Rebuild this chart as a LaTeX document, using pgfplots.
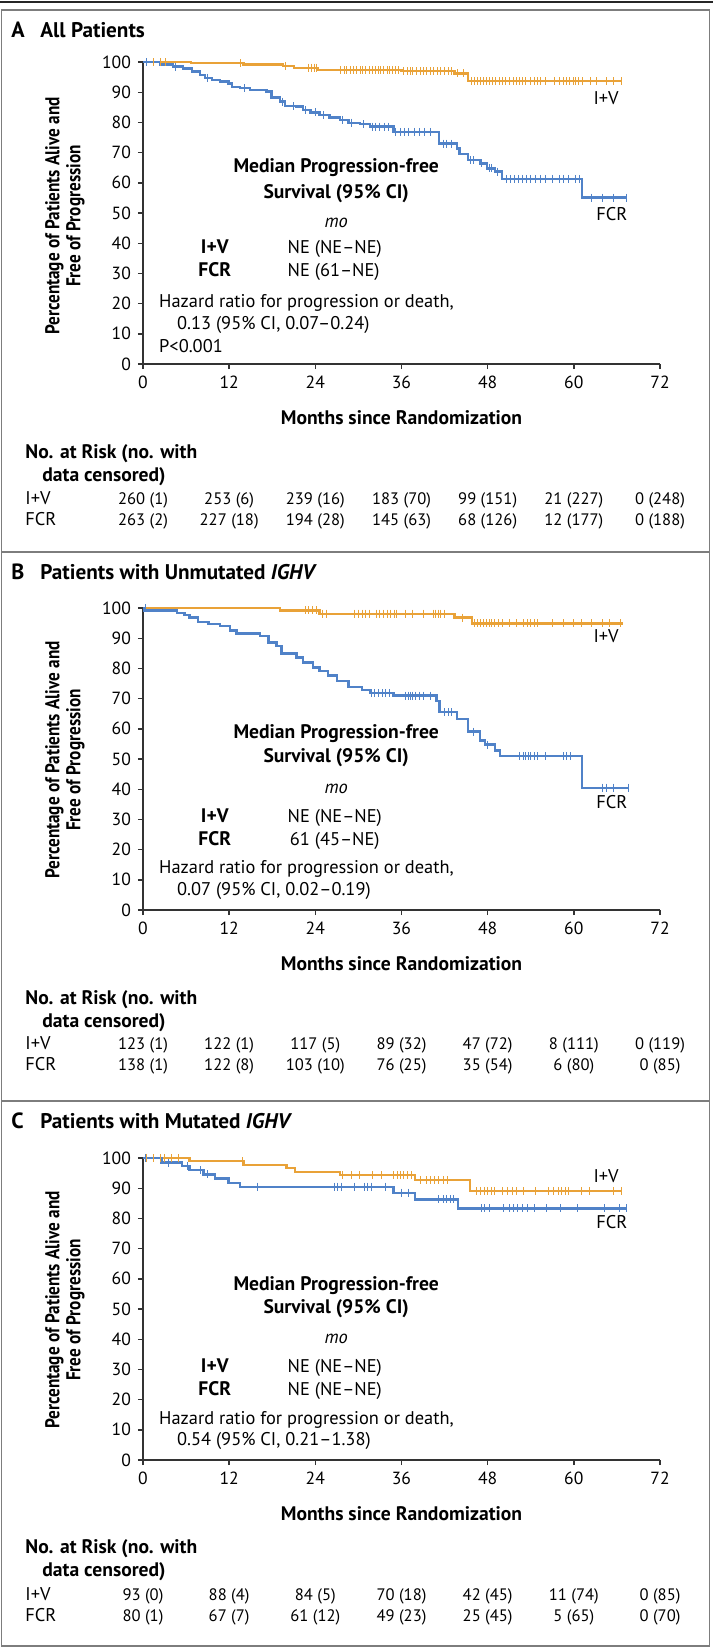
\documentclass[border=0pt]{standalone}
\usepackage{fontspec}
\setmainfont{PT Sans}
\newfontfamily\ylabfont{PT Sans}[FakeStretch=0.86]
\usepackage{pgfplots}
\pgfplotsset{compat=1.18}

\definecolor{ivorange}{RGB}{233,162,56}
\definecolor{fcrblue}{RGB}{80,130,200}
\definecolor{framegray}{RGB}{125,125,125}

\newcommand{\fs}{\fontsize{9.2}{11}\selectfont}
\newcommand{\bfs}{\fontsize{9.8}{11}\selectfont\bfseries}
\newcommand{\nfs}{\fontsize{8.3}{10}\selectfont}
\newcommand{\tfs}{\fontsize{8.8}{10}\selectfont}
\newcommand{\ylabfs}{\ylabfont\bfseries\fontsize{10}{10.5}\selectfont}

\tikzset{
  lt/.style={font=\fs, anchor=mid west, inner sep=0pt},
  ct/.style={font=\fs, anchor=mid, inner sep=0pt},
}
\pgfplotsset{
  km/.style={
    scale only axis, width=258.5pt, height=151pt, anchor=south west,
    xmin=0, xmax=72, ymin=0, ymax=100,
    axis lines=left, axis line style={-, line width=0.8pt, black!80},
    xtick={0,12,...,72}, ytick={0,10,...,100},
    tick align=outside, major tick length=2.5pt,
    tick style={line width=0.7pt, black!80},
    tick label style={font=\tfs, /pgf/number format/assume math mode=true},
    xlabel={Months since Randomization},
    xlabel style={font=\bfs, at={(axis description cs:0.5,0)}, anchor=center, yshift=-27pt},
    clip=false,
  },
  iv/.style={const plot, ivorange, line width=1.2pt, mark=none},
  fcr/.style={const plot, fcrblue, line width=1.2pt, mark=none},
  ivc/.style={only marks, mark=|, mark size=2pt, ivorange, mark options={line width=0.5pt}},
  fcrc/.style={only marks, mark=|, mark size=2pt, fcrblue, mark options={line width=0.5pt}},
}

% at-risk row: y (px), label, entries
\newcommand{\riskrow}[3]{%
  \node[lt] at (25,#1) {#2};
  \foreach \v [count=\i from 0] in {#3} \node[anchor=mid, inner sep=0pt, font=\nfs] at (143+86.17*\i,#1) {\v};
}
\newcommand{\riskhead}[1]{%
  \node[lt, font=\bfs] at (25,#1) {No. at Risk (no. with};
  \node[lt, font=\bfs] at (42,#1+23) {data censored)};
}
\newcommand{\paneltitle}[3]{%
  \node[lt, font=\fontsize{11}{12}\selectfont\bfseries] at (11,#1) {#2};
  \node[lt, font=\fontsize{10.6}{12}\selectfont\bfseries] at (40,#1) {#3};
}
\newcommand{\ylab}[1]{%
  \node[rotate=90, align=center, font=\ylabfs] at (65,#1) {Percentage of Patients Alive and\\Free of Progression};
}

\begin{document}
\begin{tikzpicture}[x=0.5pt, y=-0.5pt]
\path[use as bounding box] (0,0) rectangle (713,1649);

% frames
\draw[black!85, line width=1pt] (0,2) -- (713,2);
\draw[framegray, line width=0.8pt] (1.5,10) rectangle (709.5,552);
\draw[framegray, line width=0.8pt] (1.5,552) rectangle (709.5,1101);
\draw[framegray, line width=0.8pt] (1.5,1101) rectangle (709.5,1646);

% ---------------- Panel A ----------------
\paneltitle{32}{A}{All Patients}
\ylab{216}

\begin{axis}[km, at={(71.5pt,-182pt)}]
\addplot[iv] coordinates {(0,100) (6.7,99.6) (14,99.2) (19.5,98.6) (21,98.1) (24.4,97.3) (36,97.0) (43.4,96.2) (45.3,93.7) (66.7,93.7)};
\addplot[fcr] coordinates {(0,100) (2.4,99.2) (4.2,98.5) (5.6,97.9) (6.8,96.8) (7.9,95.7) (8.6,94.8) (9.6,94.0) (10.7,93.5) (11.9,92.9) (12.4,91.8) (13.5,91.3) (14.9,90.8) (17.2,90.2) (17.9,88.2) (19.1,86.9) (19.8,85.4) (21.4,85.2) (22.3,84.1) (23.3,83.3) (24.6,82.5) (26.0,81.6) (27.4,80.8) (28.6,79.9) (30.2,79.4) (31.6,78.6) (34.9,76.9) (41.2,73.0) (43.7,71.4) (44.1,69.5) (45.3,67.5) (46.9,66.4) (47.9,64.8) (49.0,63.7) (50.0,61.3) (61.1,55.1) (67.4,55.1)};
\addplot[ivc] coordinates {(0.5,100) (1.5,100) (2.5,100) (3.2,100) (13.6,99.6) (19.9,98.6) (23.1,98.1) (23.5,98.1) (23.9,98.1) (24.2,98.1)
 (27.5,97.3) (28,97.3) (28.4,97.3) (28.9,97.3) (29.3,97.3) (29.8,97.3) (30.3,97.3) (30.6,97.3) (31,97.3) (31.5,97.3) (31.9,97.3) (32.4,97.3) (32.8,97.3) (33.1,97.3) (33.5,97.3) (34,97.3) (34.3,97.3) (34.8,97.3) (35.2,97.3) (35.6,97.3)
 (36.3,97.0) (36.8,97.0) (37.2,97.0) (37.6,97.0) (38.1,97.0) (38.6,97.0) (39,97.0) (39.5,97.0) (40,97.0) (40.4,97.0) (41,97.0) (41.4,97.0) (42,97.0) (42.5,97.0) (43,97.0) (43.8,96.2) (44.6,96.2)
 (45.8,93.7) (46.2,93.7) (46.6,93.7) (47,93.7) (47.4,93.7) (47.8,93.7) (48.2,93.7) (48.7,93.7) (49.1,93.7) (49.6,93.7) (50,93.7) (50.5,93.7) (51,93.7) (51.6,93.7) (52,93.7) (52.4,93.7) (52.8,93.7) (53.3,93.7) (54,93.7) (54.5,93.7) (55,93.7) (55.4,93.7) (56,93.7) (57.3,93.7) (58,93.7) (58.6,93.7) (59,93.7) (59.4,93.7) (59.9,93.7) (60.3,93.7) (60.7,93.7) (61.2,93.7) (62.3,93.7) (63.2,93.7) (64.6,93.7) (65.5,93.7) (66.7,93.7)};
\addplot[fcrc] coordinates {(0.5,100) (4.5,98.5) (9.0,94.8) (14.2,91.3) (19.4,86.9) (21.0,85.4) (22.6,84.1) (24.0,83.3) (25.2,82.5) (27.8,80.8) (29,79.9) (30.7,79.4) (31.9,78.6) (32.4,78.6) (33,78.6) (33.6,78.6) (34.2,78.6)
 (35.2,76.9) (35.8,76.9) (36.4,76.9) (37,76.9) (37.8,76.9) (38.5,76.9) (39.2,76.9) (40,76.9) (41.8,73.0) (42.3,73.0) (42.9,73.0) (45.6,67.5) (46,67.5) (47.2,66.4) (48.3,64.8) (48.6,64.8) (49.4,63.7)
 (50.6,61.3) (51.2,61.3) (51.8,61.3) (52.3,61.3) (52.9,61.3) (53.4,61.3) (54,61.3) (54.6,61.3) (55.3,61.3) (56,61.3) (57,61.3) (58,61.3) (58.6,61.3) (59.2,61.3) (60.3,61.3) (60.8,61.3) (62.5,55.1) (64,55.1) (65.5,55.1) (67.4,55.1)};
\node[ct] at (axis cs:64.5,87.7) {I+V};
\node[ct] at (axis cs:65.3,49.3) {FCR};
\node[ct, font=\bfs] at (axis cs:26.9,65) {Median Progression-free};
\node[ct, font=\bfs] at (axis cs:26.9,56.6) {Survival (95\% CI)};
\node[ct, font=\fs\itshape] at (axis cs:26.9,47) {mo};
\node[ct, font=\bfs] at (axis cs:10,38.1) {I+V};
\node[lt] at (axis cs:20.1,38.1) {NE (NE--NE)};
\node[ct, font=\bfs] at (axis cs:10,30.5) {FCR};
\node[lt] at (axis cs:20.1,30.5) {NE (61--NE)};
\node[lt] at (axis cs:2.2,20.5) {Hazard ratio for progression or death,};
\node[lt] at (axis cs:4.7,13.2) {0.13 (95\% CI, 0.07--0.24)};
\node[lt] at (axis cs:2.2,5.6) {P<0.001};
\end{axis}

\riskhead{453}
\riskrow{499}{I+V}{260 (1),253 (6),239 (16),183 (70),99 (151),21 (227),0 (248)}
\riskrow{520}{FCR}{263 (2),227 (18),194 (28),145 (63),68 (126),12 (177),0 (188)}

% ---------------- Panel B ----------------
\paneltitle{574}{B}{Patients with Unmutated \textit{IGHV}}
\ylab{760}

\begin{axis}[km, at={(71.5pt,-455pt)}]
\addplot[iv] coordinates {(0,100) (19.1,99.2) (24.6,98.1) (43.4,96.8) (45.8,94.9) (66.9,94.9)};
\addplot[fcr] coordinates {(0,100) (0.2,99.2) (4.7,98.4) (5.8,97.7) (6.5,96.8) (7.7,95.4) (9.1,94.8) (10.7,94.1) (12.1,92.6) (13.0,91.6) (16.3,90.8) (17.5,88.6) (18.6,87.5) (19.3,84.9) (21.4,83.6) (22.3,81.9) (23.7,80.3) (24.6,79.2) (25.8,77.6) (27.0,75.9) (28.6,73.9) (30.5,72.8) (31.6,71.8) (34.9,71.0) (40.9,69.3) (41.3,65.5) (43.7,63.2) (45.3,59.1) (46.9,56.1) (47.6,54.8) (49.0,52.8) (49.7,50.9) (61.1,40.5) (67.6,40.5)};
\addplot[ivc] coordinates {(0.3,100) (22.6,99.2) (23,99.2) (23.6,99.2) (24.1,99.2) (25,98.1) (25.5,98.1)
 (29.5,98.1) (30,98.1) (30.5,98.1) (31,98.1) (31.5,98.1) (32.5,98.1) (33,98.1) (33.5,98.1) (34,98.1) (34.5,98.1) (35,98.1) (35.3,98.1) (36.5,98.1) (37.5,98.1) (39,98.1) (40.5,98.1) (40.8,98.1) (41.2,98.1) (41.5,98.1) (42,98.1) (44.5,96.8)
 (46.2,94.9) (46.6,94.9) (47,94.9) (47.4,94.9) (47.8,94.9) (48.2,94.9) (48.6,94.9) (49,94.9) (49.5,94.9) (50,94.9) (51,94.9) (52,94.9) (53,94.9) (53.5,94.9) (54,94.9) (54.5,94.9) (55,94.9) (57,94.9) (58.5,94.9) (60,94.9) (61,94.9) (62.5,94.9) (64,94.9) (65,94.9) (66.5,94.9)};
\addplot[fcrc] coordinates {(0.3,100) (31.8,71.8) (32.3,71.8) (32.8,71.8) (33.3,71.8) (33.8,71.8) (34.3,71.8) (36.5,71.0) (37,71.0) (37.3,71.0) (37.6,71.0) (38,71.0) (38.5,71.0) (39,71.0) (40,71.0)
 (42,65.5) (42.5,65.5) (43,65.5) (46,59.1) (48,54.8) (52.5,50.9) (53,50.9) (53.3,50.9) (53.7,50.9) (54,50.9) (54.5,50.9) (55,50.9) (56,50.9) (58.5,50.9) (59,50.9) (59.5,50.9) (64,40.5) (64.5,40.5) (65.5,40.5) (67.6,40.5)};
\node[ct] at (axis cs:64.5,90.1) {I+V};
\node[ct] at (axis cs:65.3,35.3) {FCR};
\node[ct, font=\bfs] at (axis cs:26.9,58.4) {Median Progression-free};
\node[ct, font=\bfs] at (axis cs:26.9,50.5) {Survival (95\% CI)};
\node[ct, font=\fs\itshape] at (axis cs:26.9,40.3) {mo};
\node[ct, font=\bfs] at (axis cs:10,30.7) {I+V};
\node[lt] at (axis cs:20.1,30.7) {NE (NE--NE)};
\node[ct, font=\bfs] at (axis cs:10,23.1) {FCR};
\node[lt] at (axis cs:20.4,23.1) {61 (45--NE)};
\node[lt] at (axis cs:2.2,13.9) {Hazard ratio for progression or death,};
\node[lt] at (axis cs:4.7,6.6) {0.07 (95\% CI, 0.02--0.19)};
\end{axis}

\riskhead{999}
\riskrow{1044}{I+V}{123 (1),122 (1),117 (5),89 (32),47 (72),8 (111),0 (119)}
\riskrow{1065}{FCR}{138 (1),122 (8),103 (10),76 (25),35 (54),6 (80),0 (85)}

% ---------------- Panel C ----------------
\paneltitle{1123}{C}{Patients with Mutated \textit{IGHV}}
\ylab{1310}

\begin{axis}[km, at={(71.5pt,-730pt)}]
\addplot[iv] coordinates {(0,100) (6.5,99.0) (14.0,97.7) (20.0,96.6) (21.2,95.4) (27.4,94.3) (37.9,92.7) (45.5,89.1) (66.7,89.1)};
\addplot[fcr] coordinates {(0,100) (2.6,98.5) (5.4,97.4) (6.5,96.0) (8.4,94.6) (10.0,93.2) (11.9,91.8) (13.5,90.5) (34.9,88.5) (37.9,86.3) (43.9,83.3) (67.4,83.3)};
\addplot[ivc] coordinates {(0.5,100) (1.5,100) (2.5,100) (3,100) (4,100) (5,100) (13.8,99.0) (27.8,94.3) (29,94.3) (30.2,94.3) (32,94.3) (33.2,94.3) (34.9,94.3) (35.4,94.3) (35.8,94.3) (36.3,94.3) (36.8,94.3) (37.4,94.3)
 (38.6,92.7) (39.5,92.7) (40,92.7) (40.6,92.7) (41.2,92.7) (41.8,92.7) (42.4,92.7)
 (46.5,89.1) (47,89.1) (47.5,89.1) (48,89.1) (48.5,89.1) (49,89.1) (50,89.1) (50.8,89.1) (51.5,89.1) (52,89.1) (53,89.1) (54.6,89.1) (56.5,89.1) (57.2,89.1) (57.8,89.1) (58.3,89.1) (58.8,89.1) (59.3,89.1) (61,89.1) (62.2,89.1) (65.5,89.1) (66.7,89.1)};
\addplot[fcrc] coordinates {(0.3,100) (3.5,98.5) (6.2,97.4) (8,96.0) (9,94.6) (16,90.5) (26.6,90.5) (27.1,90.5) (27.6,90.5) (29.5,90.5) (30.8,90.5) (31.3,90.5) (31.8,90.5) (33.8,90.5) (36,88.5) (37,88.5)
 (41.2,86.3) (41.8,86.3) (42.3,86.3) (42.8,86.3) (43.3,86.3)
 (47.1,83.3) (47.6,83.3) (48.2,83.3) (50.2,83.3) (51,83.3) (51.6,83.3) (52.2,83.3) (52.8,83.3) (53.6,83.3) (54.5,83.3) (56.2,83.3) (58.2,83.3) (60.5,83.3) (64.3,83.3) (66.4,83.3) (67.4,83.3)};
\node[ct] at (axis cs:64.5,93.4) {I+V};
\node[ct] at (axis cs:65.3,78.2) {FCR};
\node[ct, font=\bfs] at (axis cs:26.9,57.8) {Median Progression-free};
\node[ct, font=\bfs] at (axis cs:26.9,50.2) {Survival (95\% CI)};
\node[ct, font=\fs\itshape] at (axis cs:26.9,40.3) {mo};
\node[ct, font=\bfs] at (axis cs:10,30.7) {I+V};
\node[lt] at (axis cs:20.1,30.7) {NE (NE--NE)};
\node[ct, font=\bfs] at (axis cs:10,23.1) {FCR};
\node[lt] at (axis cs:20.1,23.1) {NE (NE--NE)};
\node[lt] at (axis cs:2.2,13.5) {Hazard ratio for progression or death,};
\node[lt] at (axis cs:4.7,6.6) {0.54 (95\% CI, 0.21--1.38)};
\end{axis}

\riskhead{1548}
\riskrow{1595}{I+V}{93 (0),88 (4),84 (5),70 (18),42 (45),11 (74),0 (85)}
\riskrow{1616}{FCR}{80 (1),67 (7),61 (12),49 (23),25 (45),5 (65),0 (70)}
\end{tikzpicture}
\end{document}
